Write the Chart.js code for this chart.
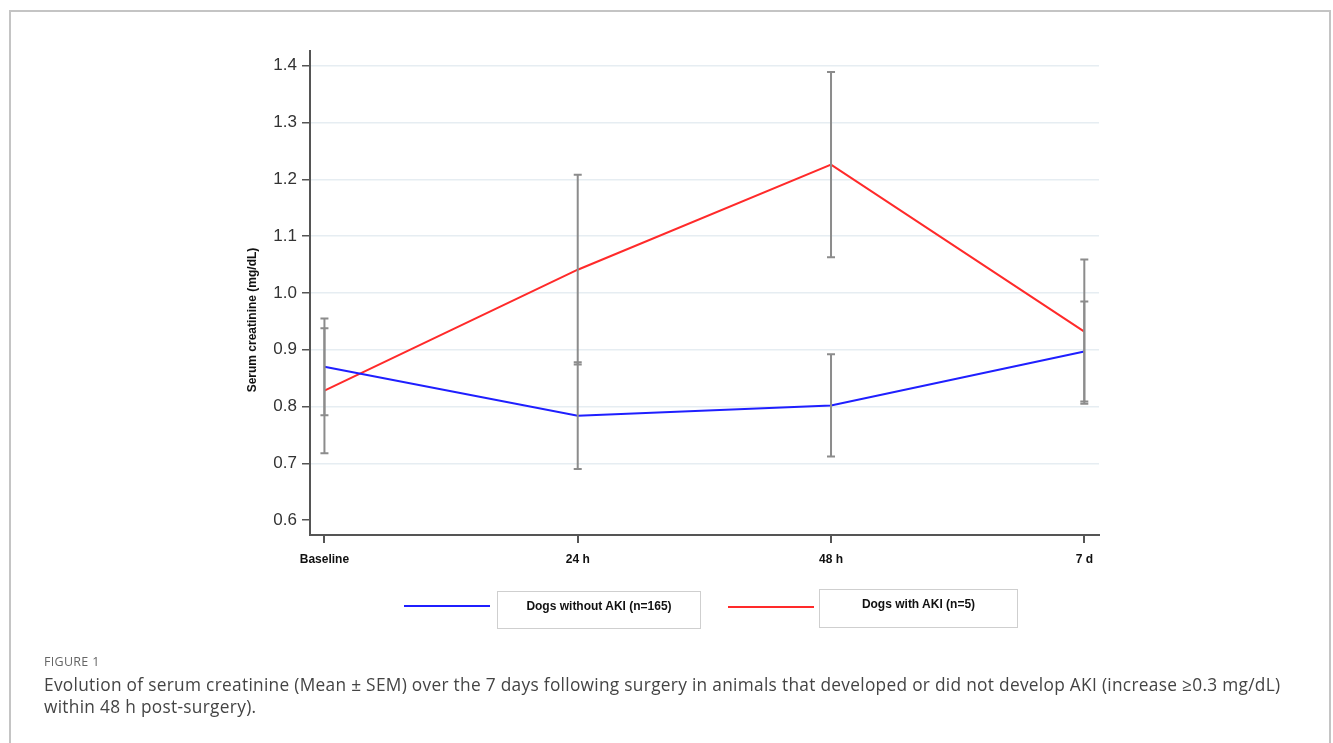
<!DOCTYPE html>
<html>
<head>
<meta charset="utf-8">
<script src="https://cdn.jsdelivr.net/npm/chart.js@4.4.1/dist/chart.umd.min.js"></script>
<style>
  html, body { margin: 0; padding: 0; background: #fff; }
  body { width: 1333px; height: 743px; position: relative; overflow: hidden; font-family: "Liberation Sans", Arial, sans-serif; }
  #frame { position: absolute; left: 9px; top: 10px; width: 1322px; height: 760px; border: 2px solid #c4c4c4; box-sizing: border-box; }
  #chart { position: absolute; left: 0; top: 0; }
  .swatch { position: absolute; height: 2px; }
  .legbox { position: absolute; border: 1px solid #cfcfcf; box-sizing: border-box; font-weight: bold; font-size: 12px; color: #111; text-align: center; }
  #fig { position: absolute; left: 44px; top: 653px; font-family: "Open Sans", sans-serif; font-size: 12.5px; color: #666; letter-spacing: 0.3px; }
  #caption { position: absolute; left: 44px; top: 674px; font-family: "Open Sans", sans-serif; font-size: 17.3px; letter-spacing: 0.3px; line-height: 22px; color: #444; white-space: nowrap; }
</style>
</head>
<body>
<div id="frame"></div>
<canvas id="chart" width="1333" height="743"></canvas>

<div class="swatch" style="left:404px; top:605px; width:86px; background:#1f1fff;"></div>
<div class="legbox" style="left:497px; top:591px; width:204px; height:38px; padding-top:7px;">Dogs without AKI (n=165)</div>
<div class="swatch" style="left:728px; top:606px; width:86px; background:#ff2a2a;"></div>
<div class="legbox" style="left:819px; top:589px; width:199px; height:39px; padding-top:7px;">Dogs with AKI (n=5)</div>

<div id="fig">FIGURE 1</div>
<div id="caption">Evolution of serum creatinine (Mean ± SEM) over the 7 days following surgery in animals that developed or did not develop AKI (increase ≥0.3 mg/dL)<br>within 48 h post-surgery).</div>

<script>
// time points and tick labels
const timepoints = ["Baseline", "24 h", "48 h", "7 d"];
const yTicks = [0.6, 0.7, 0.8, 0.9, 1.0, 1.1, 1.2, 1.3, 1.4];

// mean serum creatinine (mg/dL) and SEM
const noAkiMean = [0.870, 0.784, 0.802, 0.897];
const noAkiSem  = [0.085, 0.094, 0.090, 0.088];
const akiMean   = [0.828, 1.041, 1.226, 0.932];
const akiSem    = [0.110, 0.167, 0.163, 0.127];

const toPoints = (arr) => arr.map((v, i) => ({ x: i, y: v }));

// gray whiskers, drawn through the chart's own scales
const errorBars = {
  id: "errorBars",
  afterDatasetsDraw(chart) {
    const { ctx, scales: { x, y } } = chart;
    const groups = [[noAkiMean, noAkiSem], [akiMean, akiSem]];
    ctx.save();
    ctx.strokeStyle = "#8c8c8c";
    ctx.lineWidth = 2;
    groups.forEach(([mean, sem]) => {
      mean.forEach((m, i) => {
        const px = x.getPixelForValue(i);
        const top = y.getPixelForValue(m + sem[i]);
        const bot = y.getPixelForValue(m - sem[i]);
        ctx.beginPath();
        ctx.moveTo(px, top); ctx.lineTo(px, bot);
        ctx.moveTo(px - 4, top); ctx.lineTo(px + 4, top);
        ctx.moveTo(px - 4, bot); ctx.lineTo(px + 4, bot);
        ctx.stroke();
      });
    });
    ctx.restore();
  },
};

// rotated y title, placed as in the figure rather than centred on the axis
const yTitle = {
  id: "yTitle",
  afterDraw(chart) {
    const ctx = chart.ctx;
    ctx.save();
    ctx.translate(253, 320);
    ctx.rotate(-Math.PI / 2);
    ctx.font = 'bold 12px "Liberation Sans", Arial, sans-serif';
    ctx.fillStyle = "#111";
    ctx.textAlign = "center";
    ctx.textBaseline = "middle";
    ctx.fillText("Serum creatinine (mg/dL)", 0, 0);
    ctx.restore();
  },
};

new Chart(document.getElementById("chart"), {
  type: "line",
  data: {
    datasets: [
      { label: "Dogs without AKI (n=165)", data: toPoints(noAkiMean), borderColor: "#1f1fff", borderWidth: 2, pointRadius: 0, tension: 0 },
      { label: "Dogs with AKI (n=5)", data: toPoints(akiMean), borderColor: "#ff2a2a", borderWidth: 2, pointRadius: 0, tension: 0 },
    ],
  },
  options: {
    responsive: false,
    animation: false,
    events: [],
    layout: { padding: { left: 0, top: 51, right: 234, bottom: 168 } },
    plugins: { legend: { display: false }, tooltip: { enabled: false } },
    scales: {
      x: {
        type: "linear",
        min: -0.057,
        max: 3.058,
        afterFit: (s) => { s.height = 40; },
        afterBuildTicks: (s) => { s.ticks = timepoints.map((_, i) => ({ value: i })); },
        border: { color: "#555", width: 2 },
        grid: { drawOnChartArea: false, tickColor: "#555", tickLength: 8, lineWidth: 2 },
        ticks: {
          padding: 9,
          color: "#111",
          font: { family: '"Liberation Sans", Arial, sans-serif', size: 12, weight: "bold" },
          callback: (v) => timepoints[v],
        },
      },
      y: {
        min: 0.574,
        max: 1.426,
        afterFit: (s) => { s.width = 310; },
        afterBuildTicks: (s) => { s.ticks = yTicks.map((v) => ({ value: v })); },
        border: { color: "#555", width: 2 },
        grid: {
          color: (c) => (c.tick && c.tick.value === 0.6 ? "rgba(0,0,0,0)" : "#e6edf2"),
          tickColor: "#555",
          tickLength: 8,
          lineWidth: 1.5,
        },
        ticks: {
          padding: 5,
          color: "#333",
          font: { family: '"Liberation Sans", Arial, sans-serif', size: 17 },
          callback: (v) => v.toFixed(1),
        },
      },
    },
  },
  plugins: [errorBars, yTitle],
});
</script>
</body>
</html>
